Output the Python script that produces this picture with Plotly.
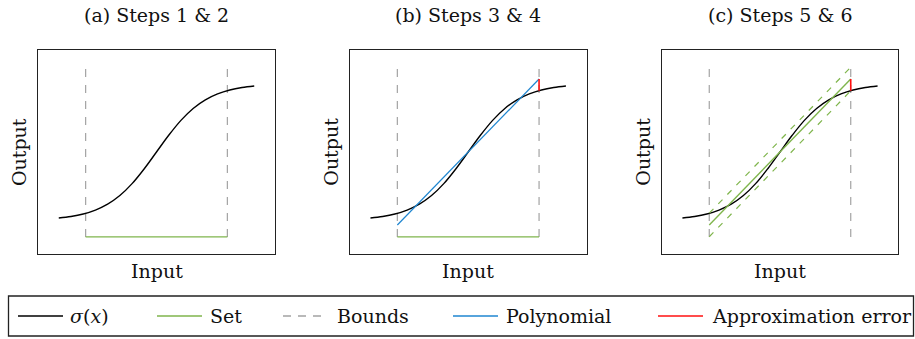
import plotly.graph_objects as go
from plotly.subplots import make_subplots

# Sampled logistic curve sigma(x)
sig_x = [-4.0, -3.5, -3.0, -2.5, -2.0, -1.5, -1.0, -0.5, 0.0,
         0.5, 1.0, 1.5, 2.0, 2.5, 3.0, 3.5, 4.0]
sig_y = [0.018, 0.029, 0.047, 0.076, 0.119, 0.182, 0.269, 0.378, 0.500,
         0.622, 0.731, 0.818, 0.881, 0.924, 0.953, 0.971, 0.982]

# Input interval (the "set") and its bounds
bound_x = [-2.9, 2.9]
bound_y = [-0.12, 1.12]
set_y = [-0.12, -0.12]

# Linear polynomial fitted on the interval, and its error band
poly_y = [-0.033, 1.033]
band_upper = [0.053, 1.119]
band_lower = [-0.119, 0.947]

# Maximum approximation error, located at the right bound
err_x = [2.9, 2.9]
err_y = [0.948, 1.033]

panel_titles = ["(a) Steps 1 & 2", "(b) Steps 3 & 4", "(c) Steps 5 & 6"]
x_label = "Input"
y_label = "Output"
legend_labels = ["<i>σ</i>(<i>x</i>)", "Set", "Bounds", "Polynomial", "Approximation error"]

BLACK = "#000000"
GREEN = "#7fb54c"
GRAY = "#a3a3a3"
BLUE = "#1f86d0"
RED = "#ff1010"
FONT = "DejaVu Serif, serif"
FS = 19

W, H = 915, 339


def px(x):
    return x / W


def py(y):
    return 1 - y / H


fig = make_subplots(rows=1, cols=3)

panel_px = [(38, 275), (349.7, 586.7), (661.7, 898.3)]
top_px, bottom_px = 50, 254


def add_bounds(col):
    for bx in bound_x:
        fig.add_trace(go.Scatter(x=[bx, bx], y=bound_y, mode="lines",
                                 line=dict(color=GRAY, width=1.2, dash="8px,8px"),
                                 showlegend=False, hoverinfo="skip"), row=1, col=col)


def add_set(col):
    fig.add_trace(go.Scatter(x=bound_x, y=set_y, mode="lines",
                             line=dict(color=GREEN, width=1.4),
                             showlegend=False, hoverinfo="skip"), row=1, col=col)


def add_sigma(col):
    fig.add_trace(go.Scatter(x=sig_x, y=sig_y, mode="lines",
                             line=dict(color=BLACK, width=1.4, shape="spline", smoothing=1),
                             showlegend=False, hoverinfo="skip"), row=1, col=col)


def add_error(col):
    fig.add_trace(go.Scatter(x=err_x, y=err_y, mode="lines",
                             line=dict(color=RED, width=1.6),
                             showlegend=False, hoverinfo="skip"), row=1, col=col)


# (a) function and interval
add_bounds(1)
add_set(1)
add_sigma(1)

# (b) polynomial fit and its error
add_bounds(2)
add_set(2)
add_sigma(2)
fig.add_trace(go.Scatter(x=bound_x, y=poly_y, mode="lines",
                         line=dict(color=BLUE, width=1.2),
                         showlegend=False, hoverinfo="skip"), row=1, col=2)
add_error(2)

# (c) polynomial with error band
add_bounds(3)
add_sigma(3)
for band in (band_upper, band_lower):
    fig.add_trace(go.Scatter(x=bound_x, y=band, mode="lines",
                             line=dict(color=GREEN, width=1.2, dash="6px,7px"),
                             showlegend=False, hoverinfo="skip"), row=1, col=3)
fig.add_trace(go.Scatter(x=bound_x, y=poly_y, mode="lines",
                         line=dict(color=GREEN, width=1.4),
                         showlegend=False, hoverinfo="skip"), row=1, col=3)
add_error(3)

axis_common = dict(showgrid=False, zeroline=False, showticklabels=False, ticks="",
                   showline=True, mirror=True, linecolor="#222222", linewidth=1.3)
annotations = []
for i, (x0, x1) in enumerate(panel_px):
    sfx = "" if i == 0 else str(i + 1)
    fig.layout["xaxis" + sfx].update(domain=[px(x0), px(x1)], range=[-4.85, 4.85], **axis_common)
    fig.layout["yaxis" + sfx].update(domain=[py(bottom_px), py(top_px)], range=[-0.245, 1.245],
                                     **axis_common)
    cx = (x0 + x1) / 2
    annotations.append(dict(text=panel_titles[i], x=px(cx), y=py(15), xref="paper", yref="paper",
                            xanchor="center", yanchor="middle", showarrow=False,
                            font=dict(family=FONT, size=FS, color="#111111")))
    annotations.append(dict(text=x_label, x=px(cx), y=py(271), xref="paper", yref="paper",
                            xanchor="center", yanchor="middle", showarrow=False,
                            font=dict(family=FONT, size=FS, color="#111111")))
    annotations.append(dict(text=y_label, x=px(x0 - 19), y=py((top_px + bottom_px) / 2),
                            xref="paper", yref="paper", textangle=-90,
                            xanchor="center", yanchor="middle", showarrow=False,
                            font=dict(family=FONT, size=FS, color="#111111")))

# Legend strip below the panels
shapes = [dict(type="rect", xref="paper", yref="paper", x0=px(8.5), x1=px(913.5),
               y0=py(296), y1=py(336), line=dict(color="#222222", width=1.3))]
legend_styles = [
    dict(color=BLACK, dash="solid"),
    dict(color=GREEN, dash="solid"),
    dict(color=GRAY, dash="8px,7px"),
    dict(color=BLUE, dash="solid"),
    dict(color=RED, dash="solid"),
]
legend_key_px = [(18, 63), (157, 202), (283, 326), (453, 498), (658, 703)]
legend_text_px = [68, 208, 335, 504, 710]
ly = 316
for lab, sty, (k0, k1), tx in zip(legend_labels, legend_styles, legend_key_px, legend_text_px):
    shapes.append(dict(type="line", xref="paper", yref="paper", x0=px(k0), x1=px(k1),
                       y0=py(ly), y1=py(ly), line=dict(width=1.4, **sty)))
    annotations.append(dict(text=lab, x=px(tx), y=py(ly), xref="paper", yref="paper",
                            xanchor="left", yanchor="middle", showarrow=False,
                            font=dict(family=FONT, size=FS, color="#111111")))

fig.update_layout(width=W, height=H, margin=dict(l=0, r=0, t=0, b=0),
                  plot_bgcolor="white", paper_bgcolor="white",
                  showlegend=False, annotations=annotations, shapes=shapes)

fig.write_html("out.html")
